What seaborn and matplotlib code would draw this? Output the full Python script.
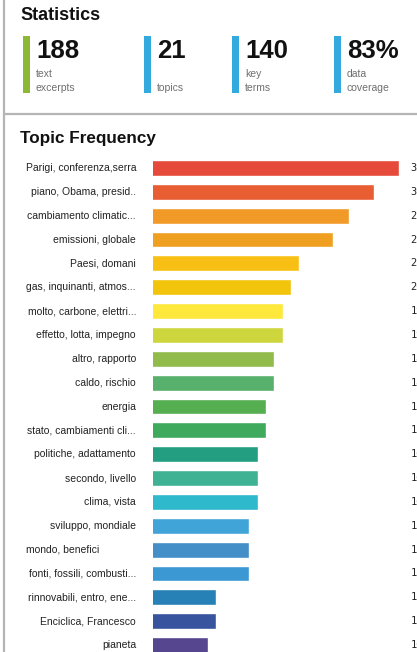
import matplotlib
matplotlib.use("Agg")
import matplotlib.pyplot as plt
from matplotlib.patches import Rectangle
import seaborn as sns

# data
topics = [
    "Parigi, conferenza,serra", "piano, Obama, presid..", "cambiamento climatic...",
    "emissioni, globale", "Paesi, domani", "gas, inquinanti, atmos...",
    "molto, carbone, elettri...", "effetto, lotta, impegno", "altro, rapporto",
    "caldo, rischio", "energia", "stato, cambiamenti cli...",
    "politiche, adattamento", "secondo, livello", "clima, vista",
    "sviluppo, mondiale", "mondo, benefici", "fonti, fossili, combusti...",
    "rinnovabili, entro, ene...", "Enciclica, Francesco", "pianeta",
]
counts = [33, 30, 27, 25, 21, 20, 19, 19, 18, 18, 17, 17, 16, 16, 16, 15, 15, 15, 11, 11, 10]
bar_colors = [
    "#E64A3B", "#E85D32", "#F29A28", "#F0A021", "#F8C015", "#F2C40C",
    "#FEE83C", "#CDD63D", "#91BC4C", "#57B06B", "#55AE4F", "#3FAA5C",
    "#239E81", "#3FB294", "#2EB9CD", "#41A4D8", "#448FC7", "#3B98D3",
    "#2881B6", "#38549F", "#56468F",
]

stat_values = ["188", "21", "140", "83%"]
stat_labels = ["text\nexcerpts", "topics", "key\nterms", "data\ncoverage"]
stat_colors = ["#8CB833", "#33A9DD", "#33A9DD", "#33A9DD"]
stat_x = [23, 144, 232, 334]  # pixel positions of the stat blocks

# style
sns.set_theme(style="white")
plt.rcParams["font.family"] = ["Liberation Sans", "DejaVu Sans"]

W, H = 417, 652
fig = plt.figure(figsize=(W / 100, H / 100), dpi=100)

# decoration layer in pixel coordinates
deco = fig.add_axes([0, 0, 1, 1])
deco.set_xlim(0, W)
deco.set_ylim(H, 0)
deco.axis("off")
grey = "#b5b5b5"
deco.plot([4.5, 4.5], [0, H], color=grey, lw=1.6)
deco.plot([4.5, W], [113.7, 113.7], color=grey, lw=1.6)

deco.text(20, 16, "Statistics", fontsize=13, fontweight="bold", va="center", color="#111111")
for x, val, lab, c in zip(stat_x, stat_values, stat_labels, stat_colors):
    deco.add_patch(Rectangle((x, 36), 7, 57, color=c, lw=0))
    deco.text(x + 13, 51, val, fontsize=18.5, fontweight="bold", va="center", color="#111111")
    deco.text(x + 13, 93, lab, fontsize=7.5, va="bottom", color="#6f6f6f", linespacing=1.45)

deco.text(20, 138, "Topic Frequency", fontsize=12.3, fontweight="bold", va="center", color="#111111")

# bar chart
ax = fig.add_axes([153 / W, 1 - 657 / H, (399 - 153) / W, (657 - 156) / H])
sns.barplot(
    x=counts, y=topics, hue=topics, palette=bar_colors, legend=False,
    orient="h", width=0.66, saturation=1, ax=ax,
)
ax.set_xlim(3.4, 33)
ax.axis("off")

for i, (t, v) in enumerate(zip(topics, counts)):
    if t == "mondo, benefici":
        ax.annotate(t, xy=(0, i), xycoords=("axes fraction", "data"),
                    xytext=((26.5 - 153) * 0.72, 0), textcoords="offset points",
                    ha="left", va="center", fontsize=7.5, color="#222222")
    else:
        ax.annotate(t, xy=(0, i), xycoords=("axes fraction", "data"),
                    xytext=(-17 * 0.72, 0), textcoords="offset points",
                    ha="right", va="center", fontsize=7.5, color="#222222")
    ax.annotate(str(v), xy=(1, i), xycoords=("axes fraction", "data"),
                xytext=(11.5 * 0.72, 0), textcoords="offset points",
                ha="left", va="center", fontsize=7.5, color="#222222",
                family="DejaVu Sans Mono", annotation_clip=False)

fig.savefig("out.png", dpi=100)
